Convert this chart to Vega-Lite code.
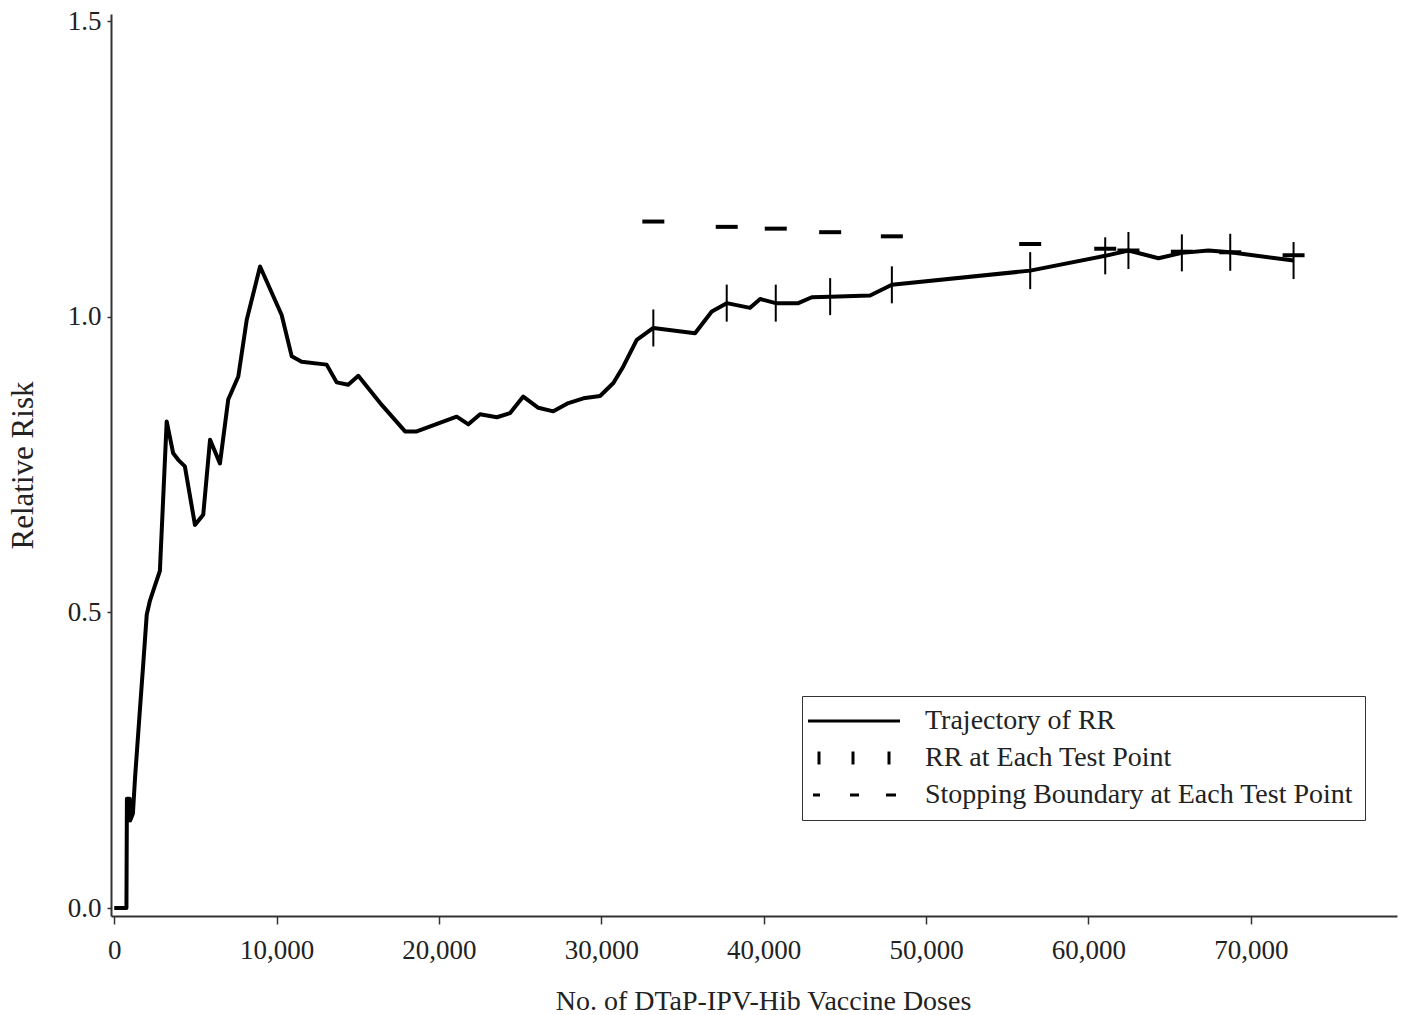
{
  "$schema": "https://vega.github.io/schema/vega-lite/v6.json",
  "width": 1286,
  "height": 902,
  "autosize": {"type": "none"},
  "padding": {"left": 111, "top": 14, "right": 4, "bottom": 99},
  "background": "white",
  "config": {
    "view": {"stroke": null},
    "font": "Liberation Serif",
    "axis": {
      "labelFont": "Liberation Serif",
      "titleFont": "Liberation Serif",
      "labelFontSize": 27,
      "titleFontSize": 27,
      "titleFontWeight": "normal",
      "labelColor": "#222222",
      "titleColor": "#222222",
      "domainColor": "#333333",
      "tickColor": "#333333",
      "domainWidth": 2,
      "tickWidth": 1.5,
      "grid": false
    }
  },
  "datasets": {
    "trajectory": [
      {"doses": 0, "rr": 0},
      {"doses": 750, "rr": 0},
      {"doses": 780, "rr": 0.185},
      {"doses": 950, "rr": 0.185},
      {"doses": 980, "rr": 0.148},
      {"doses": 1150, "rr": 0.16},
      {"doses": 1280, "rr": 0.22},
      {"doses": 1580, "rr": 0.335},
      {"doses": 1790, "rr": 0.414},
      {"doses": 2000, "rr": 0.496},
      {"doses": 2200, "rr": 0.52},
      {"doses": 2500, "rr": 0.545},
      {"doses": 2810, "rr": 0.57},
      {"doses": 3230, "rr": 0.823},
      {"doses": 3630, "rr": 0.769},
      {"doses": 3940, "rr": 0.758},
      {"doses": 4350, "rr": 0.747},
      {"doses": 4970, "rr": 0.648},
      {"doses": 5480, "rr": 0.665},
      {"doses": 5900, "rr": 0.792},
      {"doses": 6510, "rr": 0.752},
      {"doses": 7020, "rr": 0.86},
      {"doses": 7640, "rr": 0.899},
      {"doses": 8160, "rr": 0.995},
      {"doses": 8980, "rr": 1.085},
      {"doses": 10310, "rr": 1.003},
      {"doses": 10930, "rr": 0.933},
      {"doses": 11540, "rr": 0.924},
      {"doses": 13080, "rr": 0.919},
      {"doses": 13700, "rr": 0.889},
      {"doses": 14410, "rr": 0.885},
      {"doses": 15030, "rr": 0.9},
      {"doses": 16500, "rr": 0.85},
      {"doses": 17910, "rr": 0.806},
      {"doses": 18630, "rr": 0.806},
      {"doses": 21090, "rr": 0.831},
      {"doses": 21810, "rr": 0.818},
      {"doses": 22530, "rr": 0.835},
      {"doses": 23560, "rr": 0.83},
      {"doses": 24380, "rr": 0.837},
      {"doses": 25190, "rr": 0.865},
      {"doses": 26120, "rr": 0.846},
      {"doses": 27040, "rr": 0.84},
      {"doses": 27970, "rr": 0.854},
      {"doses": 28890, "rr": 0.862},
      {"doses": 29920, "rr": 0.866},
      {"doses": 30740, "rr": 0.888},
      {"doses": 31350, "rr": 0.916},
      {"doses": 32180, "rr": 0.961},
      {"doses": 33200, "rr": 0.981},
      {"doses": 35770, "rr": 0.972},
      {"doses": 36800, "rr": 1.009},
      {"doses": 37720, "rr": 1.023},
      {"doses": 39160, "rr": 1.015},
      {"doses": 39780, "rr": 1.03},
      {"doses": 40740, "rr": 1.023},
      {"doses": 42130, "rr": 1.023},
      {"doses": 42960, "rr": 1.033},
      {"doses": 44090, "rr": 1.034},
      {"doses": 46550, "rr": 1.036},
      {"doses": 47890, "rr": 1.054},
      {"doses": 56410, "rr": 1.078},
      {"doses": 61030, "rr": 1.103},
      {"doses": 62460, "rr": 1.112},
      {"doses": 64310, "rr": 1.099},
      {"doses": 65750, "rr": 1.108},
      {"doses": 67390, "rr": 1.112},
      {"doses": 68730, "rr": 1.109},
      {"doses": 72630, "rr": 1.095}
    ],
    "tests": [
      {"doses": 33200, "rr": 0.981, "boundary": 1.161},
      {"doses": 37720, "rr": 1.023, "boundary": 1.152},
      {"doses": 40740, "rr": 1.023, "boundary": 1.149},
      {"doses": 44090, "rr": 1.034, "boundary": 1.143},
      {"doses": 47890, "rr": 1.054, "boundary": 1.136},
      {"doses": 56410, "rr": 1.078, "boundary": 1.123},
      {"doses": 61030, "rr": 1.103, "boundary": 1.115},
      {"doses": 62460, "rr": 1.112, "boundary": 1.112},
      {"doses": 65750, "rr": 1.108, "boundary": 1.11},
      {"doses": 68730, "rr": 1.109, "boundary": 1.109},
      {"doses": 72630, "rr": 1.095, "boundary": 1.104}
    ],
    "legendrows": [
      {"series": "Trajectory of RR"},
      {"series": "RR at Each Test Point"},
      {"series": "Stopping Boundary at Each Test Point"}
    ]
  },
  "layer": [
    {
      "data": {"name": "trajectory"},
      "mark": {"type": "line", "color": "black", "strokeWidth": 4, "strokeJoin": "round"},
      "encoding": {
        "x": {
          "field": "doses", "type": "quantitative",
          "scale": {"domain": [-200, 79000], "nice": false, "zero": false},
          "title": "No. of DTaP-IPV-Hib Vaccine Doses",
          "axis": {"values": [0, 10000, 20000, 30000, 40000, 50000, 60000, 70000], "tickSize": 8, "labelPadding": 13, "titlePadding": 24, "titleFontSize": 28, "titleX": 652, "labelFlush": false}
        },
        "y": {
          "field": "rr", "type": "quantitative",
          "scale": {"domain": [-0.0135, 1.512], "nice": false, "zero": false},
          "title": "Relative Risk",
          "axis": {"values": [0, 0.5, 1, 1.5], "format": ".1f", "tickSize": 4, "labelPadding": 6, "titlePadding": 28, "titleFontSize": 31, "labelFlush": false}
        }
      }
    },
    {
      "data": {"name": "tests"},
      "mark": {"type": "tick", "orient": "vertical", "size": 37, "thickness": 2, "color": "black", "opacity": 1},
      "encoding": {
        "x": {"field": "doses", "type": "quantitative", "title": "No. of DTaP-IPV-Hib Vaccine Doses"},
        "y": {"field": "rr", "type": "quantitative", "title": "Relative Risk"}
      }
    },
    {
      "data": {"name": "tests"},
      "mark": {"type": "tick", "orient": "horizontal", "size": 22, "thickness": 4, "color": "black", "opacity": 1},
      "encoding": {
        "x": {"field": "doses", "type": "quantitative", "title": "No. of DTaP-IPV-Hib Vaccine Doses"},
        "y": {"field": "boundary", "type": "quantitative", "title": "Relative Risk"}
      }
    },
    {
      "data": {"name": "legendrows"},
      "mark": {"type": "point", "filled": false, "opacity": 1, "color": "black", "invalid": "filter", "size": 400},
      "encoding": {
        "x": {"field": "doses", "type": "quantitative", "title": "No. of DTaP-IPV-Hib Vaccine Doses"},
        "y": {"field": "rr", "type": "quantitative", "title": "Relative Risk"},
        "shape": {
          "field": "series", "type": "nominal",
          "scale": {
            "domain": ["Trajectory of RR", "RR at Each Test Point", "Stopping Boundary at Each Test Point"],
            "range": ["M-1.9,0H7.3", "M-0.8,-0.65V0.65M2.6,-0.65V0.65M6.2,-0.65V0.65", "M-1.4,0H-0.7M2.3,0H3.2M5.9,0H6.9"]
          },
          "legend": {
            "orient": "none", "legendX": 691, "legendY": 682,
            "title": null,
            "strokeColor": "#333333", "fillColor": "white", "padding": 11,
            "labelFont": "Liberation Serif", "labelFontSize": 28, "labelColor": "#222222", "labelLimit": 700,
            "symbolSize": 400, "symbolStrokeWidth": 3, "symbolStrokeColor": "black", "symbolFillColor": "transparent",
            "labelOffset": 84, "rowPadding": 9
          }
        }
      }
    }
  ]
}
